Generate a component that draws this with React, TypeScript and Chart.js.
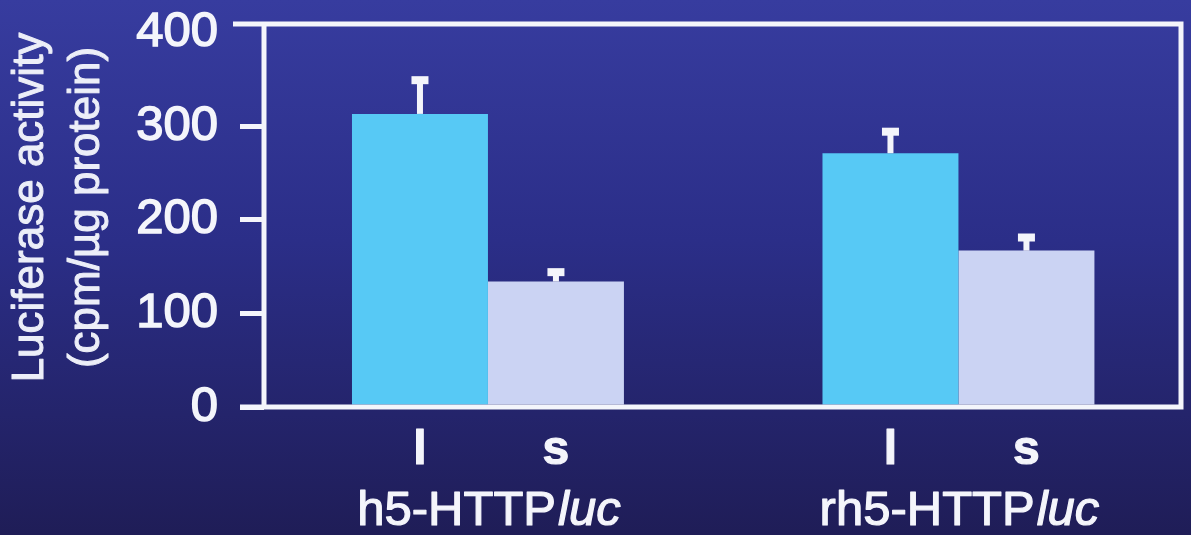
import React, { useEffect, useRef } from "react";
import { Chart, registerables } from "chart.js";

Chart.register(...registerables);

// ---- data ----
const groupNames = ["h5-HTTP", "rh5-HTTP"];
const groupItalic = ["luc", "luc"];
const groupPositions = [1, 2];
const seriesNames = ["l", "s"];
const lValues = [313, 271];
const lErrors = [36, 23];
const sValues = [134, 167];
const sErrors = [10, 14];
const yTickValues = [0, 100, 200, 300, 400];
const yTitle = ["Luciferase activity", "(cpm/\u00b5g protein)"];

const FONT = "'Liberation Sans', Arial, Helvetica, sans-serif";
const WHITE = "#f4f5fb";
const errorsBySeries = [lErrors, sErrors];

const backgroundPlugin = {
  id: "bgGradient",
  beforeDraw(chart: any) {
    const { ctx, width, height } = chart;
    const g = ctx.createLinearGradient(0, 0, 0, height);
    g.addColorStop(0, "#373c9f");
    g.addColorStop(0.45, "#2b2e88");
    g.addColorStop(1, "#1f1d57");
    ctx.save();
    ctx.fillStyle = g;
    ctx.fillRect(0, 0, width, height);
    ctx.restore();
  },
};

const drawText = (ctx: any, text: string, x: number, y: number) => {
  ctx.strokeText(text, x, y);
  ctx.fillText(text, x, y);
};

const framePlugin = {
  id: "frameAndErrors",
  afterDatasetsDraw(chart: any) {
    const { ctx, chartArea } = chart;
    const yScale = chart.scales.y;
    ctx.save();
    // error bars (upward only)
    ctx.fillStyle = WHITE;
    chart.data.datasets.forEach((ds: any, i: number) => {
      const meta = chart.getDatasetMeta(i);
      const errs = errorsBySeries[i];
      meta.data.forEach((el: any, j: number) => {
        const v = ds.data[j].y;
        const yTop = yScale.getPixelForValue(v + errs[j]);
        const x = el.x;
        ctx.fillRect(x - 3, yTop, 6, el.y - yTop);
        ctx.fillRect(x - 8.5, yTop - 4, 17, 8);
      });
    });
    // frame
    const { left, right, top, bottom } = chartArea;
    ctx.strokeStyle = WHITE;
    ctx.lineWidth = 5;
    ctx.lineCap = "butt";
    ctx.beginPath();
    ctx.moveTo(left - 31, top);
    ctx.lineTo(right + 2.5, top);
    ctx.moveTo(right, top);
    ctx.lineTo(right, bottom);
    ctx.moveTo(left - 24, bottom);
    ctx.lineTo(right + 2.5, bottom);
    ctx.moveTo(left, top - 2.5);
    ctx.lineTo(left, bottom + 2.5);
    ctx.stroke();
    ctx.restore();
  },
  afterDraw(chart: any) {
    const { ctx, chartArea } = chart;
    const xScale = chart.scales.x;
    ctx.save();
    ctx.fillStyle = WHITE;
    ctx.strokeStyle = WHITE;
    ctx.lineWidth = 1.2;
    ctx.lineJoin = "round";
    ctx.textBaseline = "middle";
    ctx.textAlign = "center";
    // y-axis title (two lines, rotated)
    ctx.save();
    ctx.font = `44px ${FONT}`;
    ctx.fillStyle = "#eceef8";
    ctx.strokeStyle = "#eceef8";
    ctx.lineWidth = 1;
    const cy = (chartArea.top + chartArea.bottom) / 2 - 8;
    [31, 87].forEach((x, k) => {
      ctx.save();
      ctx.translate(x, cy);
      ctx.rotate(-Math.PI / 2);
      drawText(ctx, yTitle[k], 0, 0);
      ctx.restore();
    });
    ctx.restore();
    // series letters under bars
    ctx.font = `bold 48px ${FONT}`;
    chart.data.datasets.forEach((ds: any, i: number) => {
      const meta = chart.getDatasetMeta(i);
      meta.data.forEach((el: any) => {
        drawText(ctx, seriesNames[i], el.x, 451);
      });
    });
    // group names
    groupNames.forEach((name, j) => {
      const cx = xScale.getPixelForValue(groupPositions[j]);
      ctx.font = `49px ${FONT}`;
      const w1 = ctx.measureText(name).width;
      ctx.font = `italic 49px ${FONT}`;
      const w2 = ctx.measureText(groupItalic[j]).width;
      const start = cx - (w1 + w2) / 2;
      ctx.textAlign = "left";
      ctx.font = `49px ${FONT}`;
      drawText(ctx, name, start, 511);
      ctx.font = `italic 49px ${FONT}`;
      drawText(ctx, groupItalic[j], start + w1 + 2, 511);
    });
    ctx.restore();
  },
};

export default function App() {
  const canvasRef = useRef<HTMLCanvasElement | null>(null);

  useEffect(() => {
    const canvas = canvasRef.current;
    if (!canvas) return;
    const chart = new Chart(canvas, {
      type: "bar",
      data: {
        datasets: [
          {
            label: seriesNames[0],
            data: lValues.map((v, j) => ({ x: groupPositions[j], y: v })),
            backgroundColor: "#57c9f5",
            borderWidth: 0,
            barPercentage: 1,
            categoryPercentage: 0.578,
          },
          {
            label: seriesNames[1],
            data: sValues.map((v, j) => ({ x: groupPositions[j], y: v })),
            backgroundColor: "#cbd3f3",
            borderWidth: 0,
            barPercentage: 1,
            categoryPercentage: 0.578,
          },
        ],
      },
      options: {
        responsive: false,
        animation: false,
        devicePixelRatio: 1,
        layout: { padding: { left: 0, right: 10, top: 24, bottom: 128 } },
        plugins: {
          legend: { display: false },
          tooltip: { enabled: false },
        },
        scales: {
          x: {
            type: "linear",
            display: false,
            offset: false,
            min: 0.524,
            max: 2.473,
            afterBuildTicks(scale: any) {
              scale.ticks = groupPositions.map((v) => ({ value: v }));
            },
          },
          y: {
            min: 0,
            max: 409,
            afterBuildTicks(scale: any) {
              scale.ticks = yTickValues.map((v) => ({ value: v }));
            },
            afterFit(scale: any) {
              scale.width = 264;
              scale.paddingTop = 0;
              scale.paddingBottom = 0;
            },
            border: { display: false },
            grid: {
              drawOnChartArea: false,
              drawTicks: true,
              tickLength: 24,
              lineWidth: 5,
              color: (c: any) =>
                c.tick && c.tick.value === 400 ? "rgba(0,0,0,0)" : WHITE,
            },
            ticks: {
              stepSize: 100,
              padding: 22,
              color: WHITE,
              textStrokeColor: WHITE,
              textStrokeWidth: 1.5,
              font: { family: FONT, size: 49 },
            },
            title: { display: false },
          },
        },
      },
      plugins: [backgroundPlugin, framePlugin],
    });
    return () => chart.destroy();
  }, []);

  return (
    <div
      style={{
        position: "fixed",
        left: 0,
        top: 0,
        width: 1191,
        height: 535,
        background: "#2b2e88",
      }}
    >
      <canvas
        ref={canvasRef}
        width={1191}
        height={535}
        style={{ display: "block", width: 1191, height: 535 }}
      />
    </div>
  );
}
